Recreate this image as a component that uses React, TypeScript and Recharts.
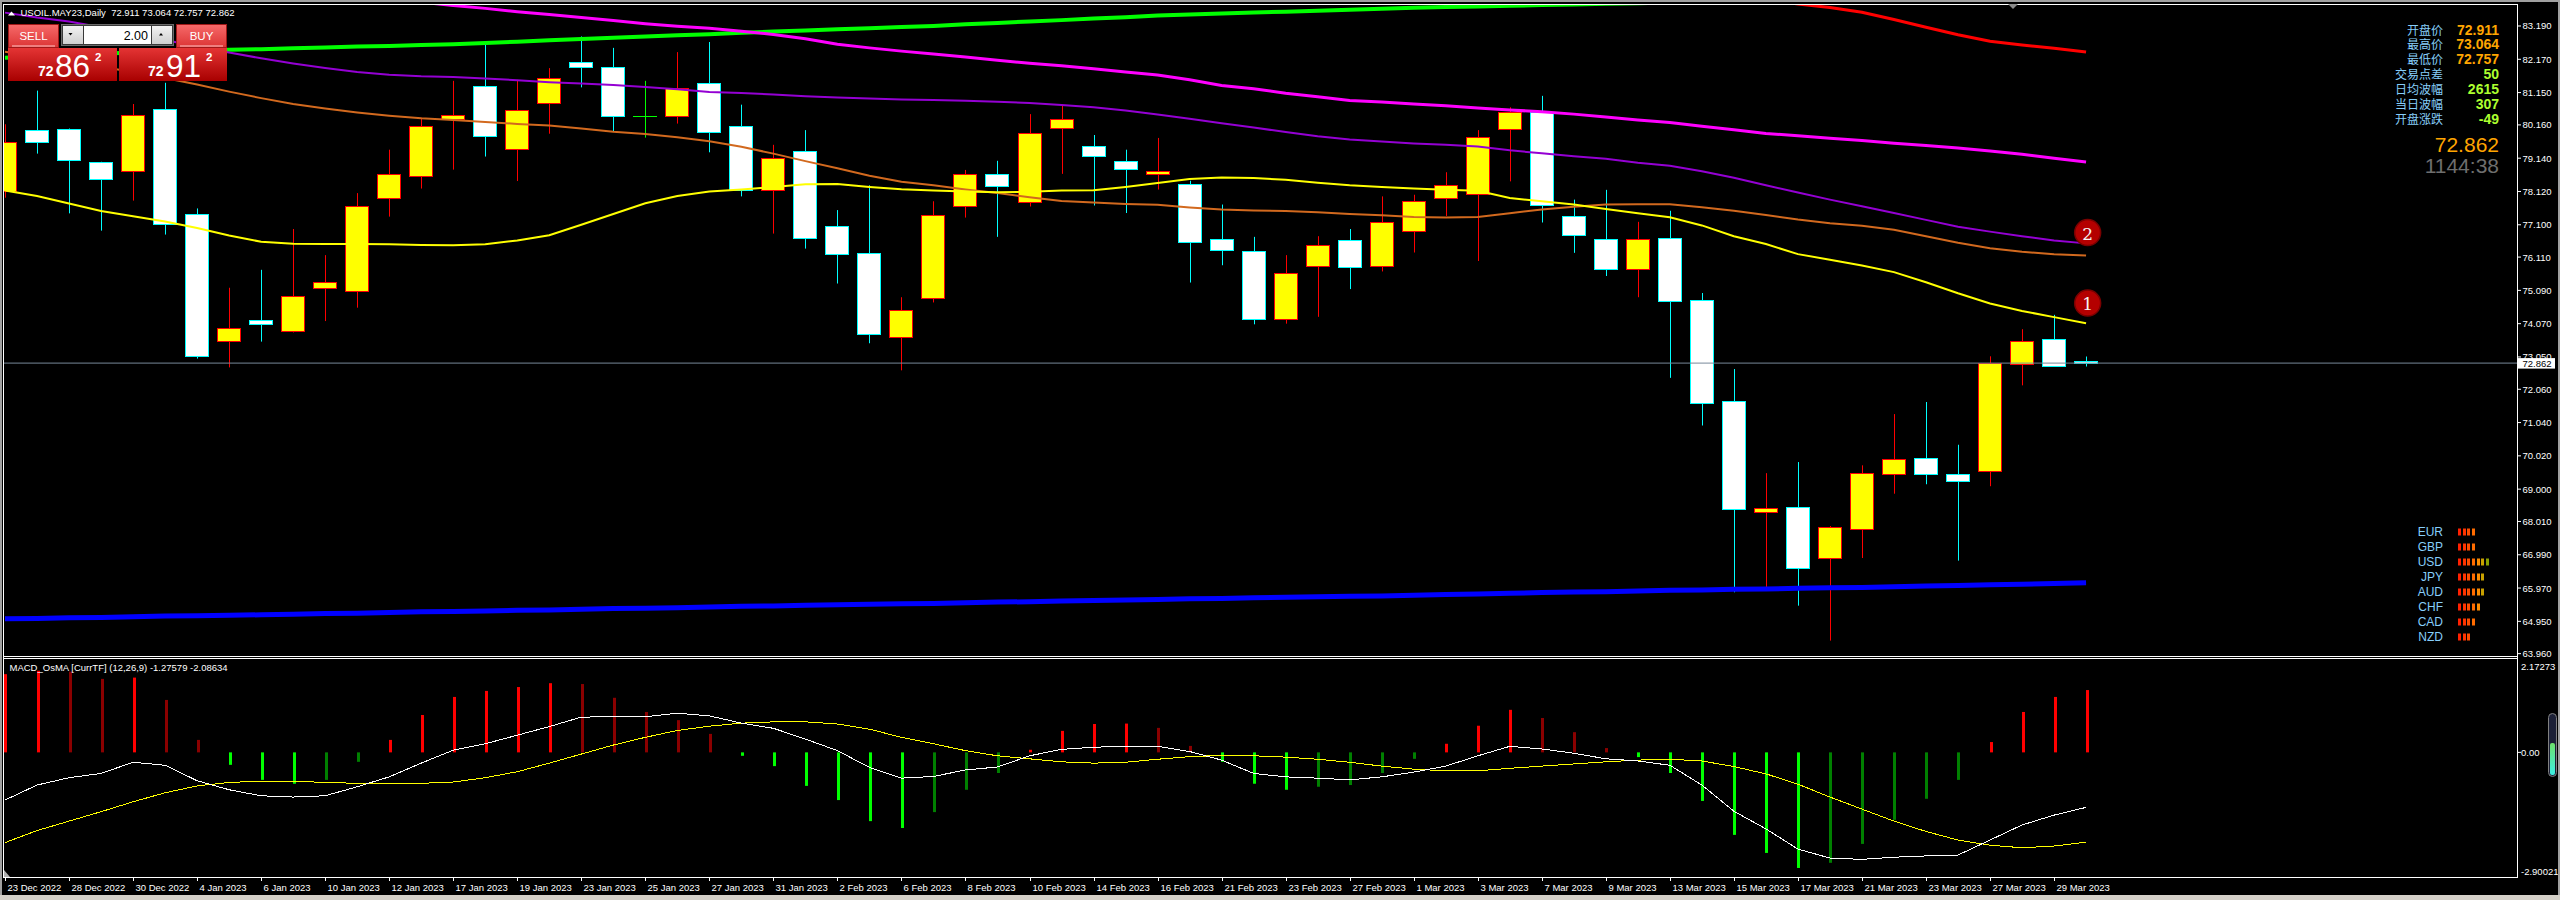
import React from 'react'
import { ComposedChart, Bar, Line, XAxis, YAxis, ReferenceLine, ReferenceDot } from 'recharts'

const FONT = '"Liberation Sans", Arial, sans-serif'
const CJK = '"Noto Sans CJK SC", sans-serif'
const PLOT_R = 2517
const X_DOMAIN: [number, number] = [-0.0625, 78.46]
const PRICE_DOMAIN: [number, number] = [63.888, 83.864]
const MACD_DOMAIN: [number, number] = [-2.90021, 2.17273]

const dates = [
  '23 Dec 2022', '27 Dec 2022', '28 Dec 2022', '29 Dec 2022', '30 Dec 2022',
  '3 Jan 2023', '4 Jan 2023', '5 Jan 2023', '6 Jan 2023', '9 Jan 2023', '10 Jan 2023', '11 Jan 2023', '12 Jan 2023', '13 Jan 2023',
  '17 Jan 2023', '18 Jan 2023', '19 Jan 2023', '20 Jan 2023', '23 Jan 2023', '24 Jan 2023', '25 Jan 2023', '26 Jan 2023', '27 Jan 2023',
  '30 Jan 2023', '31 Jan 2023', '1 Feb 2023', '2 Feb 2023', '3 Feb 2023', '6 Feb 2023', '7 Feb 2023', '8 Feb 2023', '9 Feb 2023',
  '10 Feb 2023', '13 Feb 2023', '14 Feb 2023', '15 Feb 2023', '16 Feb 2023', '17 Feb 2023', '21 Feb 2023', '22 Feb 2023', '23 Feb 2023',
  '24 Feb 2023', '27 Feb 2023', '28 Feb 2023', '1 Mar 2023', '2 Mar 2023', '3 Mar 2023', '6 Mar 2023', '7 Mar 2023', '8 Mar 2023',
  '9 Mar 2023', '10 Mar 2023', '13 Mar 2023', '14 Mar 2023', '15 Mar 2023', '16 Mar 2023', '17 Mar 2023', '20 Mar 2023', '21 Mar 2023',
  '22 Mar 2023', '23 Mar 2023', '24 Mar 2023', '27 Mar 2023', '28 Mar 2023', '29 Mar 2023', '30 Mar 2023',
]

const opens = [
  78.12, 79.99, 80.03, 79.01, 78.74, 80.66, 77.42, 73.53, 74.17, 73.86,
  75.15, 75.06, 77.91, 78.58, 80.33, 81.34, 79.42, 80.83, 82.10, 81.92,
  80.43, 80.42, 81.43, 80.12, 78.18, 79.35, 77.05, 76.25, 73.65, 74.85,
  77.69, 78.67, 77.81, 80.05, 79.50, 79.05, 78.67, 78.34, 76.65, 76.29,
  74.20, 75.85, 76.62, 75.85, 76.92, 77.91, 78.03, 80.02, 80.57, 77.36,
  76.65, 75.73, 76.69, 74.78, 71.69, 68.29, 68.44, 66.90, 67.78, 69.47,
  69.94, 69.45, 69.55, 72.82, 73.59, 72.911,
]
const highs = [
  80.18, 81.21, 80.05, 79.03, 80.80, 81.45, 77.60, 75.17, 75.72, 76.97,
  76.17, 78.07, 79.40, 80.38, 81.51, 82.70, 81.54, 81.90, 82.87, 82.52,
  81.51, 82.39, 82.70, 80.78, 79.55, 80.00, 77.55, 78.31, 74.88, 77.82,
  78.78, 79.06, 80.49, 80.78, 79.85, 79.40, 79.76, 78.45, 77.72, 76.73,
  76.17, 76.75, 76.97, 77.97, 78.02, 78.71, 80.00, 80.70, 81.05, 77.87,
  78.17, 77.19, 77.53, 75.01, 72.68, 69.49, 69.83, 67.87, 69.73, 71.30,
  71.67, 70.36, 73.07, 73.90, 74.34, 73.064,
]
const lows = [
  77.93, 79.28, 77.45, 76.92, 77.84, 76.80, 73.00, 72.73, 73.52, 73.80,
  74.15, 74.56, 77.35, 78.21, 78.79, 79.19, 78.44, 79.89, 81.31, 79.95,
  79.77, 80.20, 79.32, 77.97, 76.83, 76.37, 75.30, 73.47, 72.64, 74.72,
  77.32, 76.73, 77.66, 78.66, 77.69, 77.46, 78.18, 75.33, 75.86, 74.05,
  74.07, 74.28, 75.13, 75.67, 76.25, 77.37, 75.99, 78.43, 77.17, 76.24,
  75.53, 74.88, 72.41, 70.95, 65.84, 65.90, 65.43, 64.36, 66.89, 68.86,
  69.15, 66.81, 69.09, 72.18, 72.76, 72.757,
]
const closes = [
  79.63, 79.63, 79.09, 78.49, 80.45, 77.11, 73.09, 73.93, 74.06, 74.93,
  75.36, 77.67, 78.65, 80.12, 80.45, 79.81, 80.61, 81.61, 81.92, 80.42,
  80.43, 81.28, 79.95, 78.18, 79.16, 76.71, 76.20, 73.74, 74.48, 77.39,
  78.67, 78.28, 79.90, 80.33, 79.22, 78.82, 78.74, 76.56, 76.34, 74.20,
  75.61, 76.47, 75.82, 77.18, 77.82, 78.31, 79.78, 80.56, 77.72, 76.80,
  75.73, 76.65, 74.75, 71.63, 68.38, 68.41, 66.58, 67.83, 69.48, 69.92,
  69.47, 69.24, 72.86, 73.53, 72.77, 72.862,
]

const maYellow = [
  78.15, 77.98, 77.75, 77.52, 77.36, 77.20, 77.00, 76.77, 76.58, 76.52,
  76.51, 76.51, 76.50, 76.48, 76.47, 76.50, 76.62, 76.78, 77.10, 77.43,
  77.76, 77.98, 78.12, 78.18, 78.26, 78.34, 78.35, 78.26, 78.19, 78.15,
  78.12, 78.10, 78.11, 78.15, 78.16, 78.26, 78.38, 78.50, 78.55, 78.53,
  78.48, 78.39, 78.31, 78.26, 78.21, 78.17, 78.14, 77.92, 77.82, 77.72,
  77.58, 77.45, 77.33, 77.08, 76.75, 76.51, 76.20, 76.03, 75.85, 75.65,
  75.34, 75.00, 74.69, 74.46, 74.27, 74.08,
]
const maOrange = [
  82.40, 82.25, 82.10, 81.94, 81.78, 81.60, 81.40, 81.18, 80.98, 80.80,
  80.66, 80.54, 80.44, 80.36, 80.31, 80.25, 80.19, 80.14, 80.05, 79.95,
  79.88, 79.78, 79.66, 79.49, 79.28, 79.05, 78.83, 78.60, 78.42, 78.31,
  78.18, 78.07, 77.94, 77.83, 77.78, 77.74, 77.71, 77.63, 77.57, 77.54,
  77.52, 77.48, 77.43, 77.39, 77.34, 77.32, 77.34, 77.45, 77.57, 77.65,
  77.72, 77.73, 77.73, 77.64, 77.53, 77.40, 77.26, 77.15, 77.07, 76.95,
  76.75, 76.55, 76.38, 76.27, 76.20, 76.16,
]
const maPurple = [
  83.60, 83.45, 83.33, 83.15, 82.96, 82.76, 82.56, 82.38, 82.20, 82.04,
  81.90, 81.78, 81.70, 81.65, 81.63, 81.58, 81.53, 81.47, 81.43, 81.38,
  81.32, 81.25, 81.17, 81.14, 81.09, 81.04, 81.00, 80.97, 80.94, 80.92,
  80.90, 80.87, 80.83, 80.77, 80.70, 80.60, 80.48, 80.35, 80.21, 80.08,
  79.94, 79.81, 79.71, 79.65, 79.59, 79.55, 79.50, 79.38, 79.29, 79.20,
  79.12, 79.00, 78.91, 78.74, 78.54, 78.31, 78.09, 77.87, 77.67, 77.46,
  77.25, 77.04, 76.89, 76.75, 76.62, 76.53,
]
const maMagenta = [
  85.22, 85.12, 85.02, 84.92, 84.82, 84.72, 84.62, 84.52, 84.42, 84.32,
  84.22, 84.12, 84.02, 83.92, 83.82, 83.73, 83.63, 83.54, 83.45, 83.36,
  83.26, 83.18, 83.12, 83.03, 82.93, 82.80, 82.63, 82.52, 82.42, 82.33,
  82.24, 82.14, 82.05, 81.97, 81.88, 81.78, 81.69, 81.54, 81.37, 81.27,
  81.13, 81.02, 80.91, 80.86, 80.80, 80.75, 80.68, 80.62, 80.56, 80.49,
  80.40, 80.31, 80.23, 80.12, 80.01, 79.90, 79.83, 79.75, 79.68, 79.60,
  79.53, 79.45, 79.36, 79.26, 79.14, 79.02,
]
const maGreen = [
  82.22, 82.26, 82.30, 82.34, 82.38, 82.41, 82.44, 82.46, 82.48, 82.51,
  82.53, 82.56, 82.58, 82.61, 82.63, 82.67, 82.71, 82.75, 82.79, 82.83,
  82.87, 82.91, 82.94, 82.98, 83.02, 83.05, 83.09, 83.12, 83.16, 83.19,
  83.24, 83.28, 83.33, 83.37, 83.42, 83.46, 83.51, 83.54, 83.57, 83.60,
  83.63, 83.66, 83.69, 83.72, 83.75, 83.77, 83.79, 83.81, 83.83, 83.85,
  83.87, 83.89, 83.91, 83.93, 83.95, 83.97, 83.99, 84.01, 84.03, 84.05,
  84.07, 84.09, 84.11, 84.13, 84.15, 84.17,
]
const RED_FROM = 50
const maRed = [84.85, 84.68, 84.52, 84.35, 84.19, 84.02, 83.86, 83.76, 83.61, 83.39, 83.15, 82.92, 82.72, 82.61, 82.51, 82.39]
const maBlue = [
  65.03, 65.04, 65.06, 65.07, 65.09, 65.11, 65.12, 65.14, 65.15, 65.17,
  65.19, 65.20, 65.22, 65.24, 65.25, 65.27, 65.29, 65.30, 65.32, 65.34,
  65.35, 65.37, 65.39, 65.41, 65.42, 65.44, 65.46, 65.47, 65.49, 65.50,
  65.52, 65.54, 65.55, 65.57, 65.59, 65.60, 65.62, 65.64, 65.65, 65.67,
  65.69, 65.70, 65.72, 65.73, 65.75, 65.77, 65.79, 65.81, 65.83, 65.85,
  65.86, 65.88, 65.90, 65.91, 65.93, 65.94, 65.96, 65.98, 65.99, 66.01,
  66.03, 66.05, 66.07, 66.09, 66.11, 66.13,
]

const macdHist = [
  1.82, 1.90, 1.88, 1.71, 1.74, 1.22, 0.29, -0.29, -0.64, -0.73,
  -0.64, -0.22, 0.29, 0.87, 1.29, 1.43, 1.52, 1.61, 1.59, 1.27,
  0.94, 0.75, 0.43, -0.08, -0.32, -0.78, -1.11, -1.60, -1.76, -1.39,
  -0.87, -0.48, 0.06, 0.50, 0.66, 0.67, 0.57, 0.15, -0.22, -0.73,
  -0.87, -0.80, -0.76, -0.48, -0.15, 0.20, 0.62, 0.99, 0.80, 0.47,
  0.10, -0.11, -0.48, -1.13, -1.92, -2.34, -2.69, -2.57, -2.13, -1.57,
  -1.08, -0.64, 0.24, 0.94, 1.29, 1.45,
]
const macdMain = [
  -1.11, -0.76, -0.59, -0.49, -0.23, -0.30, -0.66, -0.87, -1.01, -1.04,
  -1.01, -0.80, -0.57, -0.25, 0.05, 0.20, 0.40, 0.60, 0.82, 0.83,
  0.83, 0.91, 0.85, 0.68, 0.56, 0.31, 0.04, -0.35, -0.60, -0.56,
  -0.41, -0.34, -0.08, 0.07, 0.12, 0.14, 0.14, 0.02, -0.18, -0.49,
  -0.57, -0.60, -0.64, -0.57, -0.46, -0.32, -0.08, 0.14, 0.08, -0.02,
  -0.15, -0.20, -0.30, -0.76, -1.37, -1.78, -2.25, -2.46, -2.49, -2.44,
  -2.41, -2.39, -2.04, -1.69, -1.46, -1.28,
]
const macdSignal = [
  -2.10, -1.82, -1.60, -1.38, -1.15, -0.94, -0.78, -0.70, -0.67, -0.67,
  -0.70, -0.72, -0.72, -0.72, -0.69, -0.59, -0.45, -0.25, -0.04, 0.17,
  0.35, 0.51, 0.61, 0.68, 0.71, 0.71, 0.66, 0.54, 0.35, 0.20,
  0.04, -0.08, -0.15, -0.22, -0.25, -0.23, -0.16, -0.10, -0.07, -0.08,
  -0.11, -0.16, -0.23, -0.32, -0.39, -0.43, -0.43, -0.37, -0.32, -0.27,
  -0.22, -0.18, -0.16, -0.20, -0.33, -0.50, -0.74, -1.04, -1.32, -1.60,
  -1.84, -2.04, -2.16, -2.22, -2.18, -2.09,
]

const priceTicks = [83.19, 82.17, 81.15, 80.16, 79.14, 78.12, 77.1, 76.11, 75.09, 74.07, 73.05, 72.06, 71.04, 70.02, 69.0, 68.01, 66.99, 65.97, 64.95, 63.96]
const lastPrice = 72.862
const macdTicks = [2.17273, 0, -2.90021]

const infoLabels = ['开盘价', '最高价', '最低价', '交易点差', '日均波幅', '当日波幅', '开盘涨跌']
const infoValues = ['72.911', '73.064', '72.757', '50', '2615', '307', '-49']
const currencies = ['EUR', 'GBP', 'USD', 'JPY', 'AUD', 'CHF', 'CAD', 'NZD']
const strength = [4, 4, 7, 6, 6, 5, 4, 3]
const strengthColors = ['#ff2000', '#ff3400', '#ff4c00', '#ff6c00', '#ff8c00', '#c8a000', '#88a000']

const rows = dates.map((date, i) => ({
  i,
  date,
  o: opens[i],
  h: highs[i],
  l: lows[i],
  c: closes[i],
  range: [lows[i], highs[i]],
  yellow: maYellow[i],
  orange: maOrange[i],
  purple: maPurple[i],
  magenta: maMagenta[i],
  green: maGreen[i],
  red: i >= RED_FROM ? maRed[i - RED_FROM] : null,
  blue: maBlue[i],
  hist: macdHist[i],
  macd: macdMain[i],
  signal: macdSignal[i],
}))
const dateTicks = rows.filter((r) => r.i % 2 === 0).map((r) => r.i)

function Candle(props: any) {
  const { x, y, width, height, payload } = props
  if (!payload || height == null) return null
  const { o, c, h, l } = payload
  const top = Math.min(y, y + height)
  const k = Math.abs(height) / (h - l)
  const py = (v: number) => top + (h - v) * k
  const cx = Math.round(x + width / 2)
  const wx = cx + 0.5
  if (o === c) {
    const yy = Math.round(py(o)) + 0.5
    return (
      <g>
        <line x1={wx} x2={wx} y1={top} y2={top + Math.abs(height)} stroke="#00ff00" />
        <line x1={cx - 12} x2={cx + 12} y1={yy} y2={yy} stroke="#00ff00" />
      </g>
    )
  }
  const bull = c > o
  const edge = bull ? '#ff0000' : '#00ffff'
  const t = Math.round(py(Math.max(o, c))) + 0.5
  const b = Math.round(py(Math.min(o, c))) + 0.5
  return (
    <g>
      <line x1={wx} x2={wx} y1={top} y2={top + Math.abs(height)} stroke={edge} />
      <rect x={cx - 11.5} y={t} width={23} height={Math.max(b - t, 1)} fill={bull ? '#ffff00' : '#ffffff'} stroke={edge} />
    </g>
  )
}

const histColor = (i: number) => {
  const v = macdHist[i]
  const prev = i > 0 ? macdHist[i - 1] : v
  if (v >= 0) return v >= prev ? '#ff0000' : '#8b0000'
  return v <= prev ? '#00ff00' : '#008000'
}

function HistBar(props: any) {
  const { x, y, width, height, payload } = props
  if (!payload || height == null) return null
  const cx = Math.round(x + width / 2)
  return <rect x={cx - 1} y={Math.min(y, y + height)} width={3} height={Math.abs(height)} fill={histColor(payload.i)} />
}

function PriceTick(props: any) {
  const { y, payload } = props
  const v = payload.value
  if (v === lastPrice) {
    return (
      <g>
        <rect x={PLOT_R + 1} y={y - 5} width={37} height={10.5} fill="#ffffff" />
        <text x={PLOT_R + 5.5} y={y + 0.5} dominantBaseline="central" fontSize={9.5} fontFamily={FONT} fill="#000">{v.toFixed(3)}</text>
      </g>
    )
  }
  return (
    <g>
      <line x1={PLOT_R} x2={PLOT_R + 4} y1={y} y2={y} stroke="#fff" />
      <text x={PLOT_R + 5.5} y={y} dominantBaseline="central" fontSize={9.5} fontFamily={FONT} fill="#fff">{v.toFixed(3)}</text>
    </g>
  )
}

function MacdTick(props: any) {
  const { y, payload } = props
  const v = payload.value
  const label = v === 0 ? '0.00' : String(v)
  const dy = v === MACD_DOMAIN[1] ? 7 : v === MACD_DOMAIN[0] ? -6 : 0
  return (
    <g>
      {v === 0 && <line x1={PLOT_R} x2={PLOT_R + 4} y1={y} y2={y} stroke="#fff" />}
      <text x={PLOT_R + 4} y={y + dy} dominantBaseline="central" fontSize={9.5} fontFamily={FONT} fill="#fff">{label}</text>
    </g>
  )
}

function DateTick(props: any) {
  const { x, payload } = props
  const px = Math.round(x) + 0.5
  return (
    <g>
      <line x1={px} x2={px} y1={221} y2={225} stroke="#fff" />
      <text x={px + 2} y={235} fontSize={9.5} fontFamily={FONT} fill="#fff">{dates[payload.value]}</text>
    </g>
  )
}

const roundMark = (label: string) => (p: any) => (
  <g>
    <circle cx={p.cx} cy={p.cy} r={13} fill="#b40000" stroke="#7a0000" strokeWidth={1.5} />
    <text x={p.cx} y={p.cy + 1} textAnchor="middle" dominantBaseline="central" fontSize={17} fontFamily='"DejaVu Serif", serif' fill="#f4f4f4">{label}</text>
  </g>
)

function Overlay() {
  const white = '#ffffff'
  return (
    <svg width={2560} height={900} style={{ position: 'absolute', left: 0, top: 0, pointerEvents: 'none' }}>
      <defs>
        <linearGradient id="gBtn" x1="0" y1="0" x2="0" y2="1">
          <stop offset="0" stopColor="#f66a6a" />
          <stop offset="1" stopColor="#dc3434" />
        </linearGradient>
        <linearGradient id="gPx" x1="0" y1="0" x2="0" y2="1">
          <stop offset="0" stopColor="#e43434" />
          <stop offset="1" stopColor="#a80000" />
        </linearGradient>
        <linearGradient id="gGray" x1="0" y1="0" x2="0" y2="1">
          <stop offset="0" stopColor="#f2f2f2" />
          <stop offset="1" stopColor="#cfcfcf" />
        </linearGradient>
        <linearGradient id="gGauge" x1="0" y1="0" x2="0" y2="1">
          <stop offset="0" stopColor="#6ee06a" />
          <stop offset="1" stopColor="#3cf0e4" />
        </linearGradient>
      </defs>

      {/* window frame */}
      <rect x={0} y={0} width={2560} height={2} fill="#a0a0a0" />
      <rect x={0} y={0} width={2} height={895} fill="#a0a0a0" />
      <rect x={2558} y={0} width={2} height={895} fill="#a0a0a0" />
      <rect x={0} y={895} width={2560} height={5} fill="#d4d0c8" />

      {/* pane borders */}
      <line x1={3} x2={PLOT_R + 1} y1={4.5} y2={4.5} stroke={white} />
      <line x1={3.5} x2={3.5} y1={4} y2={878} stroke={white} />
      <line x1={PLOT_R + 0.5} x2={PLOT_R + 0.5} y1={4} y2={878} stroke={white} />
      <line x1={3} x2={PLOT_R + 1} y1={656.5} y2={656.5} stroke={white} />
      <line x1={3} x2={PLOT_R + 1} y1={658.5} y2={658.5} stroke={white} />
      <line x1={3} x2={PLOT_R + 1} y1={877.5} y2={877.5} stroke={white} />

      {/* chart shift markers */}
      <polygon points="2008,4 2018,4 2013,9" fill="#8c8c8c" />
      <polygon points="4,870 4,877 10,877" fill="#b0b0b0" />

      {/* header */}
      <polygon points="8,15.5 15,15.5 11.5,11.5" fill={white} />
      <text x={20.5} y={16.3} fontSize={9.5} fontFamily={FONT} fill={white}>{'USOIL.MAY23,Daily\u00a0 72.911 73.064 72.757 72.862'}</text>

      {/* one-click trading panel */}
      <rect x={8.5} y={24.5} width={50} height={23} fill="url(#gBtn)" stroke="#a01818" />
      <line x1={12} x2={55} y1={46} y2={46} stroke="#ffc8c8" />
      <text x={33.5} y={40} textAnchor="middle" fontSize={11.5} fontFamily={FONT} fill={white}>SELL</text>
      <rect x={61.5} y={24.5} width={112} height={21} fill="#3a3a3a" stroke="#6a6a6a" />
      <rect x={63} y={26} width={20} height={18} fill="url(#gGray)" />
      <polygon points="68.5,33 72.5,33 70.5,35.5" fill="#000" />
      <rect x={84} y={26} width={67} height={18} fill="#ffffff" />
      <text x={148} y={39.5} textAnchor="end" fontSize={12.5} fontFamily={FONT} fill="#000">2.00</text>
      <rect x={152} y={26} width={20} height={18} fill="url(#gGray)" />
      <polygon points="159,35.5 163,35.5 161,33" fill="#000" />
      <rect x={176.5} y={24.5} width={50} height={23} fill="url(#gBtn)" stroke="#a01818" />
      <line x1={180} x2={223} y1={46} y2={46} stroke="#ffc8c8" />
      <text x={201.5} y={40} textAnchor="middle" fontSize={11.5} fontFamily={FONT} fill={white}>BUY</text>
      <rect x={8} y={48} width={109} height={33} fill="url(#gPx)" />
      <rect x={119} y={48} width={108} height={33} fill="url(#gPx)" />
      <text x={38} y={76} fontSize={14} fontWeight="bold" fontFamily={FONT} fill={white}>72</text>
      <text x={55} y={76.5} fontSize={31.5} fontFamily={FONT} fill={white}>86</text>
      <text x={95} y={60.5} fontSize={11.5} fontWeight="bold" fontFamily={FONT} fill={white}>2</text>
      <text x={148} y={76} fontSize={14} fontWeight="bold" fontFamily={FONT} fill={white}>72</text>
      <text x={166} y={76.5} fontSize={31.5} fontFamily={FONT} fill={white}>91</text>
      <text x={206} y={60.5} fontSize={11.5} fontWeight="bold" fontFamily={FONT} fill={white}>2</text>

      {/* price info panel */}
      {infoLabels.map((t, k) => (
        <g key={t}>
          <text x={2443} y={29 + k * 14.88} textAnchor="end" dominantBaseline="central" fontSize={12} fontFamily={CJK} fill="#87cefa">{t}</text>
          <text x={2499} y={29.5 + k * 14.88} textAnchor="end" dominantBaseline="central" fontSize={14} fontWeight="bold" fontFamily={FONT} fill={k < 3 ? '#ffa500' : '#adff2f'}>{infoValues[k]}</text>
        </g>
      ))}
      <text x={2499} y={144} textAnchor="end" dominantBaseline="central" fontSize={21} fontFamily={FONT} fill="#ffa500">72.862</text>
      <text x={2499} y={165} textAnchor="end" dominantBaseline="central" fontSize={21} fontFamily={FONT} fill="#6e6e6e">1144:38</text>

      {/* currency strength */}
      {currencies.map((cur, k) => (
        <g key={cur}>
          <text x={2443} y={532 + k * 15} textAnchor="end" dominantBaseline="central" fontSize={12} fontFamily={FONT} fill="#87cefa">{cur}</text>
          {Array.from({ length: strength[k] }, (_, j) => (
            <rect key={j} x={Math.round(2458 + j * 4.67)} y={528.5 + k * 15} width={3} height={7} fill={strengthColors[j]} />
          ))}
        </g>
      ))}

      {/* MACD pane */}
      <text x={9.5} y={667.5} dominantBaseline="central" fontSize={9.5} fontFamily={FONT} fill={white}>MACD_OsMA [CurrTF] (12,26,9) -1.27579 -2.08634</text>
      <rect x={2548.5} y={713.5} width={8} height={63} rx={4} fill="#1c2036" stroke="#808080" />
      <rect x={2550} y={743} width={5} height={32} rx={2} fill="url(#gGauge)" />
    </svg>
  )
}

export default function App() {
  return (
    <div style={{ position: 'fixed', left: 0, top: 0, width: 2560, height: 900, background: '#000', overflow: 'hidden', fontFamily: FONT }}>
      <div style={{ position: 'absolute', left: 0, top: 656 }}>
        <ComposedChart width={2560} height={239} data={rows} margin={{ top: 3, right: 0, bottom: 0, left: 3 }}>
          <XAxis
            type="number"
            dataKey="i"
            domain={X_DOMAIN}
            allowDataOverflow
            ticks={dateTicks}
            interval={0}
            tick={DateTick}
            tickLine={false}
            axisLine={false}
            height={18}
          />
          <YAxis
            orientation="right"
            width={43}
            domain={MACD_DOMAIN}
            allowDataOverflow
            ticks={macdTicks}
            interval={0}
            tick={MacdTick}
            tickLine={false}
            axisLine={false}
          />
          <Bar dataKey="hist" barSize={3} shape={HistBar} isAnimationActive={false} />
          <Line dataKey="signal" stroke="#ffff00" strokeWidth={1} dot={false} isAnimationActive={false} shapeRendering="crispEdges" />
          <Line dataKey="macd" stroke="#ffffff" strokeWidth={1} dot={false} isAnimationActive={false} shapeRendering="crispEdges" />
        </ComposedChart>
      </div>
      <div style={{ position: 'absolute', left: 0, top: 0 }}>
        <ComposedChart width={2560} height={662} data={rows} margin={{ top: 4, right: 0, bottom: 6, left: 3 }}>
          <XAxis type="number" dataKey="i" domain={X_DOMAIN} allowDataOverflow hide ticks={dateTicks} />
          <YAxis
            orientation="right"
            width={43}
            domain={PRICE_DOMAIN}
            allowDataOverflow
            ticks={[...priceTicks, lastPrice]}
            interval={0}
            tick={PriceTick}
            tickLine={false}
            axisLine={false}
          />
          <ReferenceLine y={lastPrice} stroke="#778899" strokeWidth={1} />
          <Line dataKey="blue" stroke="#0000ff" strokeWidth={5} dot={false} isAnimationActive={false} />
          <Line dataKey="green" stroke="#00ff00" strokeWidth={4} dot={false} isAnimationActive={false} />
          <Line dataKey="red" stroke="#ff0000" strokeWidth={3} dot={false} isAnimationActive={false} />
          <Line dataKey="magenta" stroke="#ff00ff" strokeWidth={3} dot={false} isAnimationActive={false} />
          <Line dataKey="purple" stroke="#9400d3" strokeWidth={2} dot={false} isAnimationActive={false} />
          <Line dataKey="orange" stroke="#d2691e" strokeWidth={2} dot={false} isAnimationActive={false} />
          <Line dataKey="yellow" stroke="#ffff00" strokeWidth={2} dot={false} isAnimationActive={false} />
          <Bar dataKey="range" barSize={24} shape={Candle} isAnimationActive={false} />
          <ReferenceDot x={65.05} y={76.86} r={13} shape={roundMark('2')} />
          <ReferenceDot x={65.05} y={74.7} r={13} shape={roundMark('1')} />
        </ComposedChart>
      </div>
      <Overlay />
    </div>
  )
}
